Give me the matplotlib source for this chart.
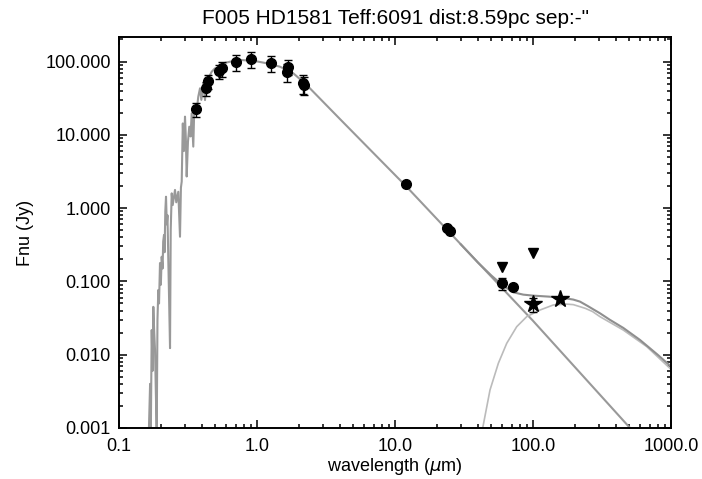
import matplotlib
matplotlib.use('Agg')
import matplotlib.pyplot as plt
from matplotlib.ticker import FixedLocator, FuncFormatter, LogLocator, NullFormatter

plt.rcParams['font.family'] = ['Liberation Sans', 'DejaVu Sans']

# stellar model, jagged UV part first
model_wave = [0.164, 0.168, 0.170, 0.1726, 0.175, 0.1773, 0.180, 0.1824, 0.185, 0.1876,
              0.190, 0.1927, 0.195, 0.1982, 0.201, 0.2039, 0.207, 0.209, 0.2119, 0.214,
              0.2165, 0.2191, 0.222, 0.2245, 0.2277, 0.231, 0.2343, 0.237, 0.2410, 0.245,
              0.2546, 0.260, 0.2690, 0.2767, 0.2810, 0.2847, 0.2900, 0.2950, 0.3008, 0.3050,
              0.3094, 0.3160, 0.3230, 0.3300, 0.3363, 0.3454, 0.3500, 0.3553, 0.3650, 0.3754,
              0.3864, 0.3950, 0.4083, 0.4200, 0.4300, 0.4438, 0.4697, 0.4964, 0.5200, 0.5395,
              0.5702, 0.6372, 0.7530, 0.9402, 1.176, 1.468, 1.834, 2.291, 3.993, 7.787,
              12.0, 24.0, 100.0, 505.0, 600.0]
model_flux = [0.0007, 0.004, 0.0008, 0.0217, 0.006, 0.045, 0.02, 0.0116, 0.003, 0.0008,
              0.03, 0.0764, 0.05, 0.178, 0.09, 0.217, 0.15, 0.35, 0.43, 0.25,
              0.9, 1.43, 0.6, 0.8, 0.196, 0.05, 0.0123, 0.5, 1.59, 1.1,
              1.77, 1.2, 1.67, 0.407, 1.9, 2.3, 14.3, 6.0, 17.7, 9.0,
              2.7, 8.0, 12.9, 9.5, 19.6, 6.9, 18.0, 24.2, 21.0, 33.1,
              43.1, 30.0, 50.4, 29.8, 52.0, 59.0, 72.6, 80.8, 75.0, 59.0,
              94.6, 99.4, 104.8, 102.6, 94.6, 84.9, 69.0, 47.8, 16.4, 4.57,
              2.0, 0.50, 0.029, 0.001, 0.0007]

# cold dust component
dust_wave = [41.0, 43.2, 48.8, 56.1, 64.5, 76.2, 90.0, 112.4, 140.3, 175.4,
             196.0, 219.0, 240.0, 270.0, 306.0, 451.0, 667.0, 984.0, 1000.0]
dust_flux = [0.0006, 0.001, 0.0033, 0.00764, 0.0143, 0.0241, 0.033, 0.0407, 0.0477, 0.049,
             0.0482, 0.0452, 0.0428, 0.0388, 0.033, 0.0217, 0.0129, 0.0065, 0.0063]

# star + dust
total_wave = [30, 40, 50, 60, 72, 85, 100, 130, 160, 196, 219, 250, 280, 306, 360, 451, 596, 800, 1000]
total_flux = [0.32, 0.18, 0.12, 0.089, 0.071, 0.066, 0.064, 0.062, 0.060, 0.0565, 0.053, 0.046, 0.0405, 0.0367,
              0.030, 0.0232, 0.0159, 0.0100, 0.0069]

# photometry
phot_wave = [0.36, 0.424, 0.443, 0.528, 0.555, 0.704, 0.91, 1.257, 1.636, 1.69, 2.16, 2.19, 12.0, 23.7, 25.0, 60.0, 71.3]
phot_flux = [22.5, 43.1, 54.2, 73.5, 80.8, 98.4, 108, 96.3, 72.6, 84.9, 51.4, 48.0, 2.1, 0.53, 0.49, 0.094, 0.083]
phot_err = [5.0, 9, 12, 15, 19, 23, 27, 24, 20, 20, 15, 13, 0.1, 0.02, 0.02, 0.018, 0.004]

# far-IR (stars)
fir_wave = [100.0, 157.0]
fir_flux = [0.049, 0.0575]
fir_err = [0.0105, 0.004]

# upper limits
ul_wave = [60.0, 100.0]
ul_flux = [0.156, 0.246]

fig = plt.figure(figsize=(7.02, 4.79), dpi=100)
ax = fig.add_axes([119/702, 51/479, 552/702, 391/479])

ax.plot(model_wave, model_flux, color='#999999', lw=1.5)
ax.plot(dust_wave, dust_flux, color='#bbbbbb', lw=1.2)
ax.plot(total_wave, total_flux, color='#8f8f8f', lw=1.5)

ax.errorbar(phot_wave, phot_flux, yerr=phot_err, fmt='o', color='k', ms=7,
            elinewidth=1, capsize=3, capthick=1)
ax.errorbar(fir_wave, fir_flux, yerr=fir_err, fmt='*', color='k', ms=13,
            elinewidth=1, capsize=3, capthick=1)
ax.plot(ul_wave, ul_flux, 'v', color='k', ms=7)

ax.set_xscale('log')
ax.set_yscale('log')
ax.set_xlim(0.1, 1000)
ax.set_ylim(0.001, 216)

ax.xaxis.set_major_locator(FixedLocator([0.1, 1, 10, 100, 1000]))
ax.xaxis.set_major_formatter(FuncFormatter(lambda v, p: '%.1f' % v))
ax.yaxis.set_major_locator(FixedLocator([0.001, 0.01, 0.1, 1, 10, 100]))
ax.yaxis.set_major_formatter(FuncFormatter(lambda v, p: '%.3f' % v))
ax.xaxis.set_minor_locator(LogLocator(base=10, subs=range(2, 10), numticks=20))
ax.yaxis.set_minor_locator(LogLocator(base=10, subs=range(2, 10), numticks=20))
ax.xaxis.set_minor_formatter(NullFormatter())
ax.yaxis.set_minor_formatter(NullFormatter())

ax.tick_params(which='both', direction='in', top=True, right=True, width=1.1, labelsize=13)
ax.tick_params(which='major', length=6)
ax.tick_params(which='minor', length=3)
ax.tick_params(axis='x', pad=7)
ax.tick_params(axis='y', pad=6)
for s in ax.spines.values():
    s.set_linewidth(1.4)

ax.set_xlabel(r'wavelength ($\mu$m)', fontsize=13, labelpad=1)
ax.set_ylabel('Fnu (Jy)', fontsize=13, labelpad=8)
ax.set_title('F005 HD1581 Teff:6091 dist:8.59pc sep:-"', fontsize=15, pad=9)

fig.savefig('out.png', dpi=100)
